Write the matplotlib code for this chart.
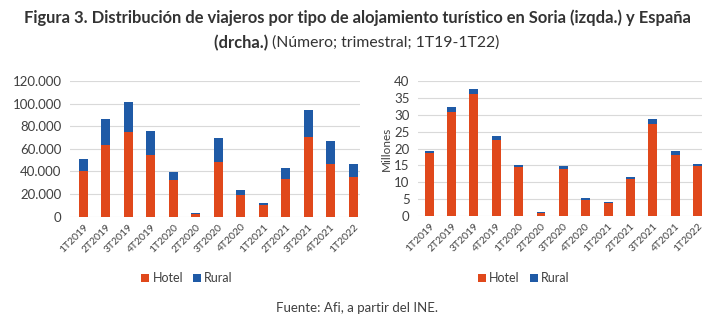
import matplotlib
matplotlib.use("Agg")
import matplotlib.pyplot as plt
from matplotlib.ticker import FuncFormatter

categories = ["1T2019", "2T2019", "3T2019", "4T2019", "1T2020", "2T2020", "3T2020",
              "4T2020", "1T2021", "2T2021", "3T2021", "4T2021", "1T2022"]

soria_hotel = [40400, 63400, 75200, 54300, 32700, 2400, 48400, 19200, 10300, 33300, 70500, 46600, 35400]
soria_rural = [10300, 22700, 26600, 21500, 6500, 1100, 21500, 4700, 1500, 9500, 23600, 20100, 10900]

espana_hotel = [18.6, 30.9, 36.1, 22.5, 14.6, 1.0, 13.8, 4.8, 4.0, 10.9, 27.2, 18.2, 14.9]
espana_rural = [0.7, 1.3, 1.5, 1.2, 0.5, 0.2, 1.0, 0.5, 0.1, 0.6, 1.4, 1.2, 0.6]

HOTEL = "#E0481B"
RURAL = "#1F5AA6"
TXT = "#404040"

plt.rcParams['font.family'] = ['Lato', 'DejaVu Sans']

fig = plt.figure(figsize=(7.14, 3.36), dpi=100)
W, H = 714, 336

def ax_at(x0, x1, ytop, ybot):
    return fig.add_axes([x0 / W, 1 - ybot / H, (x1 - x0) / W, (ybot - ytop) / H])

ax1 = ax_at(70, 360, 81, 216.7)
ax2 = ax_at(418, 702, 81, 216)

x = list(range(len(categories)))

def style(ax, ylim, step, fmt):
    ax.set_ylim(0, ylim)
    ax.set_yticks([i * step for i in range(int(round(ylim / step)) + 1)])
    ax.yaxis.set_major_formatter(FuncFormatter(fmt))
    ax.grid(axis='y', color='#D9D9D9', linewidth=0.8)
    ax.set_axisbelow(True)
    for s in ax.spines.values():
        s.set_visible(False)
    ax.tick_params(axis='both', length=0, colors=TXT)
    ax.tick_params(axis='y', labelsize=9.5, pad=6)
    ax.set_xticks(x)
    ax.set_xticklabels(categories, rotation=45, ha='right', rotation_mode='anchor', fontsize=7.5)
    ax.tick_params(axis='x', pad=4)

w = 0.4
ax1.bar(x, soria_hotel, width=w, color=HOTEL, label="Hotel")
ax1.bar(x, soria_rural, width=w, bottom=soria_hotel, color=RURAL, label="Rural")
style(ax1, 120000, 20000, lambda v, p: f"{int(v):,}".replace(",", "."))
ax1.set_xlim(-0.6, 12.3)

ax2.bar(x, espana_hotel, width=w, color=HOTEL, label="Hotel")
ax2.bar(x, espana_rural, width=w, bottom=espana_hotel, color=RURAL, label="Rural")
style(ax2, 40, 5, lambda v, p: f"{int(v)}")
ax2.set_xlim(-0.5, 12.2)
ax2.set_ylabel("Millones", fontsize=8.5, color=TXT, labelpad=2)

for ax, cx in ((ax1, 187), (ax2, 524)):
    leg = ax.legend(loc='center', bbox_to_anchor=(cx / W, 1 - 278 / H), bbox_transform=fig.transFigure,
                    ncol=2, frameon=False, fontsize=9, handlelength=0.6, handleheight=0.6,
                    handletextpad=0.3, columnspacing=0.8)
    for t in leg.get_texts():
        t.set_color(TXT)

TFS = 11.9
fig.text(0.5, 1 - 18 / H, "Figura 3. Distribución de viajeros por tipo de alojamiento turístico en Soria (izqda.) y España",
         ha='center', va='center', fontsize=TFS, fontweight='bold', color='#333333')
t1 = fig.text(0, 1 - 43 / H, "(drcha.) ", ha='left', va='center', fontsize=TFS, fontweight='bold', color='#333333')
t2 = fig.text(0, 1 - 43 / H, "(Número; trimestral; 1T19-1T22)", ha='left', va='center', fontsize=TFS * 0.95, color='#333333')
r = fig.canvas.get_renderer()
w1 = t1.get_window_extent(r).width
w2 = t2.get_window_extent(r).width
start = (W - (w1 + w2)) / 2
t1.set_x(start / W)
t2.set_x((start + w1) / W)

fig.text(0.5, 1 - 308 / H, "Fuente: Afi, a partir del INE.", ha='center', va='center', fontsize=9.5, color=TXT)

fig.savefig("out.png", dpi=100, facecolor='white')
